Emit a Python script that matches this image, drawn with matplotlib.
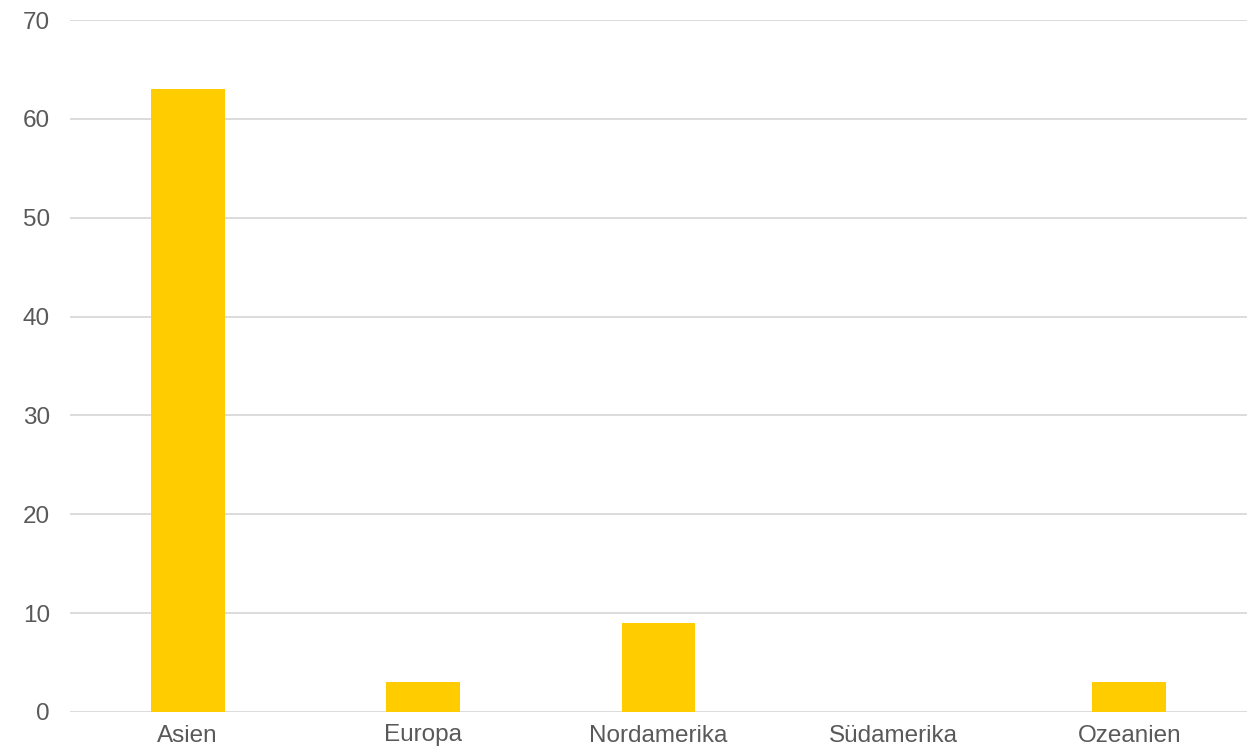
import matplotlib
matplotlib.use("Agg")
import matplotlib.pyplot as plt

categories = ["Asien", "Europa", "Nordamerika", "Südamerika", "Ozeanien"]
values = [63, 3, 9, 0, 3]
yticks = [0, 10, 20, 30, 40, 50, 60, 70]

plt.rcParams['font.family'] = ['Liberation Sans', 'DejaVu Sans']

fig = plt.figure(figsize=(12.56, 7.53), dpi=100)
ax = fig.add_axes([70/1256, 1 - 712/753, (1247-70)/1256, (712-20)/753])

x = list(range(len(categories)))
ax.bar(x, values, width=0.313, color="#FFCC00", zorder=3)
ax.set_xlim(-0.5, len(categories) - 0.5)
ax.set_ylim(0, 70)
ax.set_yticks(yticks)
ax.set_xticks(x)
ax.set_xticklabels(categories)
ax.grid(axis='y', color="#d9d9d9", linewidth=1.3, zorder=0)
ax.grid(axis='x', visible=False)
for s in ax.spines.values():
    s.set_visible(False)
ax.tick_params(axis='both', length=0, labelsize=17.5, colors="#595959")
ax.tick_params(axis='y', pad=14.4)
ax.tick_params(axis='x', pad=9)

fig.savefig("out.png", dpi=100)
